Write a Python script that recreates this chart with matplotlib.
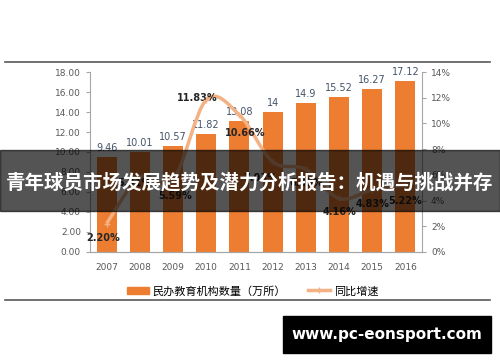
import numpy as np
import matplotlib.pyplot as plt
from matplotlib.path import Path
from matplotlib.patches import PathPatch, Rectangle
from matplotlib.lines import Line2D

plt.rcParams["font.family"] = ["DejaVu Sans", "Noto Sans CJK SC"]

years = ["2007", "2008", "2009", "2010", "2011", "2012", "2013", "2014", "2015", "2016"]
counts = [9.46, 10.01, 10.57, 11.82, 13.08, 14, 14.9, 15.52, 16.27, 17.12]
growth = [2.20, 5.81, 5.59, 11.83, 10.66, 7.03, 6.43, 4.16, 4.83, 5.22]
count_labels = ["9.46", "10.01", "10.57", "11.82", "13.08", "14", "14.9", "15.52", "16.27", "17.12"]

bar_color = "#ED7D31"
line_color = "#F4B183"
grey = "#595959"

fig = plt.figure(figsize=(5, 3.62), dpi=100)
ax = fig.add_axes([0.18, 0.304, 0.664, 0.497])
ax2 = ax.twinx()

x = np.arange(len(years))
ax.bar(x, counts, width=0.6, color=bar_color, zorder=2)
for xi, v, s in zip(x, counts, count_labels):
    ax.annotate(s, (xi, v), xytext=(0, 4), textcoords="offset pixels",
                ha="center", va="bottom", fontsize=7, color="#44546A")

ax.set_xlim(-0.5, 9.5)
ax.set_ylim(0, 18)
ax.set_yticks(np.arange(0, 19, 2))
ax.set_yticklabels([f"{v:.2f}" for v in np.arange(0, 19, 2)])
ax.set_xticks(x)
ax.set_xticklabels(years)

# smoothed growth line (catmull-rom through the points)
px, py = x.astype(float), np.array(growth)
verts = [(px[0], py[0])]
codes = [Path.MOVETO]
for i in range(len(px) - 1):
    p0 = (px[max(i - 1, 0)], py[max(i - 1, 0)])
    p1 = (px[i], py[i])
    p2 = (px[i + 1], py[i + 1])
    p3 = (px[min(i + 2, len(px) - 1)], py[min(i + 2, len(px) - 1)])
    c1 = (p1[0] + (p2[0] - p0[0]) / 6, p1[1] + (p2[1] - p0[1]) / 6)
    c2 = (p2[0] - (p3[0] - p1[0]) / 6, p2[1] - (p3[1] - p1[1]) / 6)
    verts += [c1, c2, p2]
    codes += [Path.CURVE4] * 3
ax2.add_patch(PathPatch(Path(verts, codes), facecolor="none", edgecolor=line_color,
                        lw=2.5, zorder=3))
ax2.plot(px, py, ls="none", marker="+", ms=5, color=line_color, zorder=4)

# label offsets in pixels (2008 and 2013 sit under the banner text)
offsets = [(-3, -14), (-6, -6), (2, -16), (-9, 2), (6, -18), (-12, -16),
           (0, -14), (0, -14), (0, -14), (0, -16)]
for xi, v, off in zip(px, py, offsets):
    ax2.annotate(f"{v:.2f}%", (xi, v), xytext=off, textcoords="offset pixels",
                 ha="center", va="center", fontsize=7, color="#262626", fontweight="bold")

ax2.set_ylim(0, 14)
ax2.set_yticks(np.arange(0, 15, 2))
ax2.set_yticklabels([f"{v}%" for v in range(0, 15, 2)])

for a in (ax, ax2):
    a.spines["top"].set_visible(False)
    for s in a.spines.values():
        s.set_color("#A6A6A6")
    a.tick_params(labelsize=6.5, colors="#A6A6A6", labelcolor=grey, length=3)
ax.tick_params(axis="x", length=0, pad=8)
ax.spines["right"].set_visible(False)
ax2.spines["left"].set_visible(False)

# legend
handles = [Rectangle((0, 0), 1, 1, color=bar_color),
           Line2D([], [], color=line_color, lw=2.5, marker="+", ms=5)]
fig.legend(handles, ["民办教育机构数量（万所）", "同比增速"], loc="center",
           bbox_to_anchor=(0.505, 1 - 291 / 362), ncol=2, frameon=False,
           prop={"family": ["Noto Sans CJK SC"], "size": 8}, handlelength=2.0,
           columnspacing=2.0, handletextpad=0.3)

# frame lines
fig.add_artist(Line2D([5 / 500, 490 / 500], [1 - 62 / 362] * 2, color=grey, lw=1.2))
fig.add_artist(Line2D([5 / 500, 490 / 500], [1 - 300 / 362] * 2, color=grey, lw=1.2))

# title banner
fig.add_artist(Rectangle((0, 1 - 211 / 362), 1, 61 / 362, transform=fig.transFigure,
                         color="black", alpha=0.67, zorder=10))
fig.text(0.5, 1 - 183 / 362, "青年球员市场发展趋势及潜力分析报告：机遇与挑战并存",
         ha="center", va="center", color="white", fontsize=14, fontweight="bold",
         family=["Noto Sans CJK SC"], zorder=11)

# site box
fig.add_artist(Rectangle((283 / 500, 1 - 353 / 362), 208 / 500, 37 / 362,
                         transform=fig.transFigure, color="black", zorder=10))
fig.text(387 / 500, 1 - 335 / 362, "www.pc-eonsport.com", ha="center", va="center",
         color="white", fontsize=11, fontweight="bold", zorder=11)

plt.savefig("out.png", dpi=100)
plt.close()
